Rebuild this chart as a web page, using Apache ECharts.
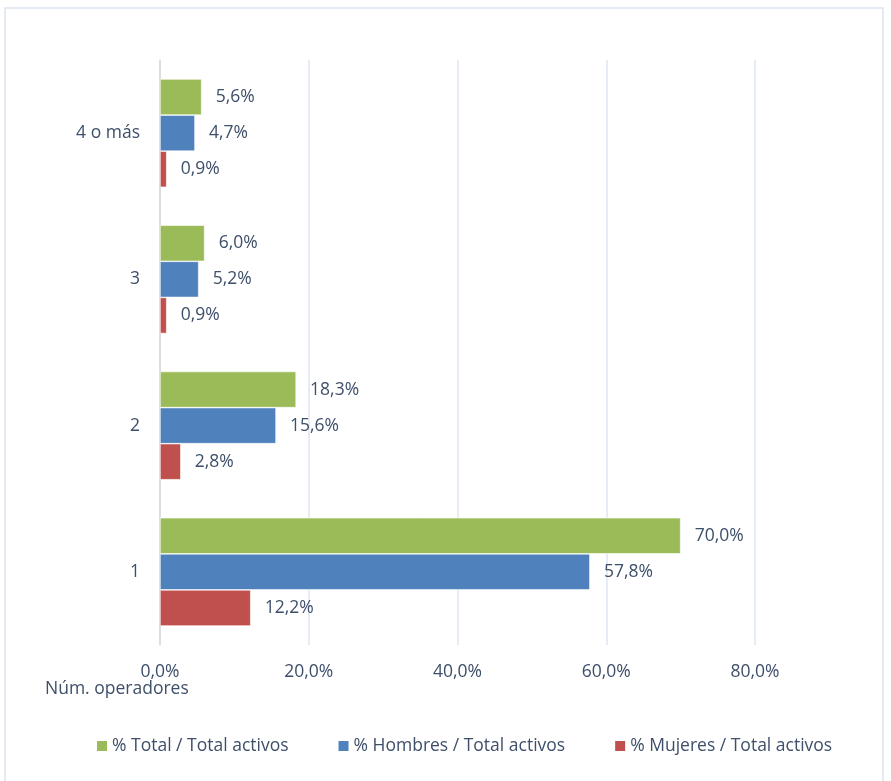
<!DOCTYPE html>
<html>
<head>
<meta charset="utf-8">
<script src="https://cdn.jsdelivr.net/npm/echarts@6/dist/echarts.min.js"></script>
<style>
  html, body { margin: 0; padding: 0; background: #fff; }
  #chart { width: 891px; height: 781px; }
</style>
</head>
<body>
<div id="chart"></div>
<script>
// datos
var categorias = ['1', '2', '3', '4 o más'];
var pctTotal = [70.0, 18.3, 6.0, 5.6];
var pctHombres = [57.8, 15.6, 5.2, 4.7];
var pctMujeres = [12.2, 2.8, 0.9, 0.9];
var ticksX = [0, 20, 40, 60, 80];

var textColor = '#3e4f6a';
var fontFam = '"Open Sans", Lato, sans-serif';
var fs = 17.5;

function fmt(v) {
    return v.toFixed(1).replace('.', ',') + '%';
}

var myChart = echarts.init(document.getElementById('chart'));

function serie(name, data, color) {
    return {
        name: name,
        type: 'bar',
        data: data,
        barGap: '0%',
        barCategoryGap: '26%',
        itemStyle: { color: color, borderColor: '#ffffff', borderWidth: 0.6 },
        label: {
            show: true,
            position: 'right',
            distance: 14,
            color: textColor,
            fontSize: fs,
            fontFamily: fontFam,
            formatter: function (p) { return fmt(p.value); }
        }
    };
}

var option = {
    backgroundColor: '#fff',
    animation: false,
    grid: {
        left: 160,
        right: 136,
        top: 60,
        bottom: 136
    },
    legend: {
        bottom: 21,
        left: 90,
        itemWidth: 12,
        itemHeight: 12,
        itemGap: 48,
        icon: 'rect',
        data: ['% Total / Total activos', '% Hombres / Total activos', '% Mujeres / Total activos'],
        textStyle: { color: textColor, fontSize: fs, fontFamily: fontFam, padding: [0, 0, 0, -1] }
    },
    xAxis: {
        type: 'value',
        min: ticksX[0],
        max: ticksX[ticksX.length - 1],
        interval: 20,
        axisLine: { show: false },
        axisTick: { show: false },
        splitLine: { show: true, lineStyle: { color: '#dce6f2', width: 1.5 } },
        axisLabel: {
            color: textColor,
            fontSize: fs,
            fontFamily: fontFam,
            margin: 18,
            formatter: function (v) { return fmt(v); }
        }
    },
    yAxis: {
        type: 'category',
        data: categorias,
        axisLine: { show: true, lineStyle: { color: '#d9d9d9', width: 1.5 } },
        axisTick: { show: false },
        axisLabel: { color: textColor, fontSize: fs, fontFamily: fontFam, margin: 20 }
    },
    graphic: [
        {
            type: 'rect',
            shape: { x: 5, y: 8, width: 878, height: 800 },
            style: { fill: 'none', stroke: '#dde5ef', lineWidth: 1.5 },
            silent: true
        },
        {
            type: 'text',
            left: 45,
            top: 680,
            style: { text: 'Núm. operadores', fill: textColor, fontSize: fs, fontFamily: fontFam }
        }
    ],
    series: [
        serie('% Total / Total activos', pctTotal, '#9bbb59'),
        serie('% Hombres / Total activos', pctHombres, '#4f81bd'),
        serie('% Mujeres / Total activos', pctMujeres, '#c0504d')
    ]
};

myChart.setOption(option);
</script>
</body>
</html>
